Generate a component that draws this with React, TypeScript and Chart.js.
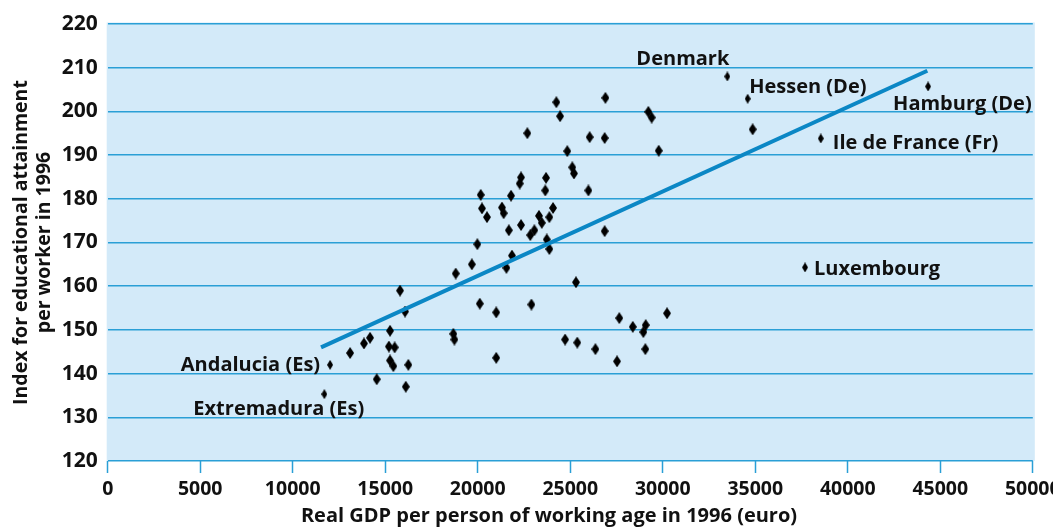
import React, { useEffect, useRef } from "react";
import { Chart, registerables } from "chart.js";

Chart.register(...registerables);

// ---- data ----
const gdpX = [
  15800, 16070, 15260, 14180, 13850, 13100, 15200, 15510, 15260, 15440, 16250, 14540, 16110,
  24250, 26900, 24450, 29220, 29400, 22680, 26050, 26860, 24840, 29780, 25110, 25200, 22340,
  22270, 23690, 23650, 25980, 20160, 21800, 20230, 21310, 21400, 20500, 24070, 23310, 23870,
  23460, 22340, 21680, 23060, 22840, 23730, 23870, 26860, 19980, 19680, 21850, 21550, 18810,
  25310, 20110, 22900, 21000, 30230, 27650, 28380, 29080, 28950, 18680, 18740, 24720, 25380,
  26360, 29060, 21000, 27530, 34860,
];
const indexY = [
  159.0, 154.2, 149.8, 148.2, 146.9, 144.7, 146.2, 146.0, 143.0, 141.7, 142.0, 138.7, 137.0,
  202.1, 203.1, 198.9, 199.9, 198.6, 195.0, 194.1, 193.9, 190.9, 191.0, 187.2, 185.8, 184.9,
  183.5, 184.8, 181.9, 181.9, 180.9, 180.7, 177.8, 178.0, 176.7, 175.8, 177.9, 176.1, 175.8,
  174.5, 174.0, 172.8, 172.8, 171.7, 170.7, 168.5, 172.6, 169.6, 165.0, 167.0, 164.2, 162.9,
  160.9, 156.0, 155.8, 154.0, 153.8, 152.7, 150.7, 151.1, 149.5, 149.1, 147.8, 147.8, 147.1,
  145.6, 145.6, 143.6, 142.8, 195.9,
];
const regionNames = [
  "Denmark", "Hessen (De)", "Hamburg (De)", "Ile de France (Fr)", "Luxembourg",
  "Andalucia (Es)", "Extremadura (Es)",
];
const regionX = [33490, 34590, 44340, 38540, 37690, 12020, 11710];
const regionY = [208.0, 202.9, 205.7, 193.8, 164.3, 142.0, 135.3];
const trendX = [11530, 44300];
const trendY = [146.0, 209.3];
const xTitle = "Real GDP per person of working age in 1996 (euro)";
const yTitle = ["Index for educational attainment", "per worker in 1996"];

// ---- styles (label placement relative to each region point, in px) ----
const labelStyle: { align: CanvasTextAlign; dx: number; dy: number }[] = [
  { align: "right", dx: 2, dy: -11.7 },
  { align: "left", dx: 1.5, dy: -5.4 },
  { align: "left", dx: -35, dy: 23.3 },
  { align: "left", dx: 12, dy: 11 },
  { align: "left", dx: 9, dy: 7.7 },
  { align: "right", dx: -10, dy: 5.7 },
  { align: "left", dx: -131, dy: 20.7 },
];

const FONT = "'Open Sans', 'DejaVu Sans', sans-serif";
const GRID = "#2a9fd6";
const BG = "#d3eaf9";

function diamond(w: number, h: number) {
  const c = document.createElement("canvas");
  c.width = w;
  c.height = h;
  const g = c.getContext("2d")!;
  g.fillStyle = "#000";
  g.beginPath();
  g.moveTo(w / 2, 0);
  g.lineTo(w, h / 2);
  g.lineTo(w / 2, h);
  g.lineTo(0, h / 2);
  g.closePath();
  g.fill();
  return c;
}

export default function App() {
  const ref = useRef<HTMLCanvasElement | null>(null);

  useEffect(() => {
    document.body.style.margin = "0";
    const canvas = ref.current!;
    const bigDiamond = diamond(8, 12);
    const smallDiamond = diamond(6, 10);

    const bgPlugin = {
      id: "bgPlugin",
      beforeDraw(chart: any) {
        const { ctx, chartArea } = chart;
        ctx.save();
        ctx.fillStyle = BG;
        ctx.fillRect(chartArea.left - 1, chartArea.top - 1.5, chartArea.right - chartArea.left + 3, chartArea.bottom - chartArea.top + 1.5);
        ctx.restore();
      },
      afterDraw(chart: any) {
        const { ctx } = chart;
        const meta = chart.getDatasetMeta(2);
        ctx.save();
        ctx.fillStyle = "#111";
        ctx.font = `bold 20px ${FONT}`;
        ctx.textBaseline = "alphabetic";
        meta.data.forEach((pt: any, i: number) => {
          const s = labelStyle[i];
          ctx.textAlign = s.align;
          ctx.fillText(regionNames[i], pt.x + s.dx, pt.y + s.dy);
        });
        ctx.font = `bold 20px ${FONT}`;
        ctx.textAlign = "center";
        ctx.textBaseline = "alphabetic";
        ctx.fillText(xTitle, 549, 521.5);
        ctx.restore();
      },
    };

    const chart = new Chart(canvas, {
      type: "scatter",
      data: {
        datasets: [
          {
            data: trendX.map((x, i) => ({ x, y: trendY[i] })),
            showLine: true,
            borderColor: "#0b87c5",
            borderWidth: 4,
            pointRadius: 0,
            order: 0,
          } as any,
          {
            data: gdpX.map((x, i) => ({ x, y: indexY[i] })),
            pointStyle: bigDiamond as any,
            pointRadius: 4,
            order: 1,
          },
          {
            data: regionX.map((x, i) => ({ x, y: regionY[i] })),
            pointStyle: smallDiamond as any,
            pointRadius: 4,
            order: 2,
          },
        ],
      },
      options: {
        animation: false,
        responsive: false,
        devicePixelRatio: 1,
        layout: { padding: { left: 0, right: 20.2, top: 24, bottom: 0 } },
        plugins: { legend: { display: false }, tooltip: { enabled: false } },
        scales: {
          x: {
            type: "linear",
            min: 0,
            max: 50000,
            afterFit(scale: any) {
              scale.height = 66;
              scale.paddingLeft = 0;
              scale.paddingRight = 0;
            },
            border: { display: false },
            grid: {
              drawOnChartArea: false,
              drawTicks: true,
              tickLength: 12,
              tickWidth: 1.5,
              tickColor: GRID,
              color: GRID,
            },
            ticks: {
              stepSize: 5000,
              autoSkip: false,
              maxRotation: 0,
              padding: 5,
              color: "#111",
              font: { family: FONT, size: 19.5, weight: "bold" },
              callback: (v: any) => String(v),
            },
          },
          y: {
            type: "linear",
            min: 120,
            max: 220,
            afterFit(scale: any) {
              scale.width = 107.7;
              scale.paddingTop = 0;
              scale.paddingBottom = 0;
            },
            border: { display: false },
            grid: { color: GRID, lineWidth: 1.5, drawTicks: false },
            ticks: {
              stepSize: 10,
              padding: 10,
              color: "#111",
              font: { family: FONT, size: 21, weight: "bold" },
            },
            title: {
              display: true,
              text: yTitle,
              color: "#111",
              font: { family: FONT, size: 19.5, weight: "bold", lineHeight: 1.2 },
              padding: { top: 9.3, bottom: 0 },
            },
          },
        },
      },
      plugins: [bgPlugin],
    });
    return () => chart.destroy();
  }, []);

  return (
    <div style={{ width: 1053, height: 527 }}>
      <canvas ref={ref} width={1053} height={527} />
    </div>
  );
}
